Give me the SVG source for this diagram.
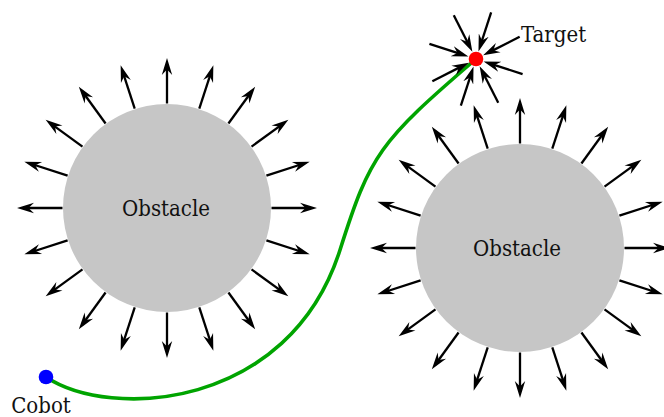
<svg xmlns="http://www.w3.org/2000/svg" xmlns:xlink="http://www.w3.org/1999/xlink" width="664" height="417" viewBox="0 0 664 417">
<style>
.obs{fill:#c6c6c6}
.lbl{font-family:"DejaVu Serif","Liberation Serif",serif;font-stretch:condensed;font-size:22px;fill:#111}
.ray{stroke:#000;stroke-width:2.3;fill:none;marker-end:url(#stealth)}
.path{fill:none;stroke:#00a400;stroke-width:3.6}
</style>
<defs>
<marker id="stealth" markerUnits="userSpaceOnUse" markerWidth="20" markerHeight="14" viewBox="0 -7 20 14" refX="11" refY="0" orient="auto">
<path d="M17,0 L0,-5.2 L5.5,0 L0,5.2 Z" fill="#000"/>
</marker>
<line id="out" class="ray" x1="104.5" y1="0" x2="144" y2="0"/>
<line id="in" class="ray" x1="49" y1="0" x2="14" y2="0"/>
</defs>

<g id="obstacle1">
<g transform="translate(167,208)">
<use xlink:href="#out" transform="rotate(0)"/>
<use xlink:href="#out" transform="rotate(18)"/>
<use xlink:href="#out" transform="rotate(36)"/>
<use xlink:href="#out" transform="rotate(54)"/>
<use xlink:href="#out" transform="rotate(72)"/>
<use xlink:href="#out" transform="rotate(90)"/>
<use xlink:href="#out" transform="rotate(108)"/>
<use xlink:href="#out" transform="rotate(126)"/>
<use xlink:href="#out" transform="rotate(144)"/>
<use xlink:href="#out" transform="rotate(162)"/>
<use xlink:href="#out" transform="rotate(180)"/>
<use xlink:href="#out" transform="rotate(198)"/>
<use xlink:href="#out" transform="rotate(216)"/>
<use xlink:href="#out" transform="rotate(234)"/>
<use xlink:href="#out" transform="rotate(252)"/>
<use xlink:href="#out" transform="rotate(270)"/>
<use xlink:href="#out" transform="rotate(288)"/>
<use xlink:href="#out" transform="rotate(306)"/>
<use xlink:href="#out" transform="rotate(324)"/>
<use xlink:href="#out" transform="rotate(342)"/>
</g>
<circle class="obs" cx="167" cy="208" r="104"/>
<text class="lbl" x="166" y="216" text-anchor="middle">Obstacle</text>
</g>

<g id="obstacle2">
<g transform="translate(520,248)">
<use xlink:href="#out" transform="rotate(0)"/>
<use xlink:href="#out" transform="rotate(18)"/>
<use xlink:href="#out" transform="rotate(36)"/>
<use xlink:href="#out" transform="rotate(54)"/>
<use xlink:href="#out" transform="rotate(72)"/>
<use xlink:href="#out" transform="rotate(90)"/>
<use xlink:href="#out" transform="rotate(108)"/>
<use xlink:href="#out" transform="rotate(126)"/>
<use xlink:href="#out" transform="rotate(144)"/>
<use xlink:href="#out" transform="rotate(162)"/>
<use xlink:href="#out" transform="rotate(180)"/>
<use xlink:href="#out" transform="rotate(198)"/>
<use xlink:href="#out" transform="rotate(216)"/>
<use xlink:href="#out" transform="rotate(234)"/>
<use xlink:href="#out" transform="rotate(252)"/>
<use xlink:href="#out" transform="rotate(270)"/>
<use xlink:href="#out" transform="rotate(288)"/>
<use xlink:href="#out" transform="rotate(306)"/>
<use xlink:href="#out" transform="rotate(324)"/>
<use xlink:href="#out" transform="rotate(342)"/>
</g>
<circle class="obs" cx="520" cy="248" r="104"/>
<text class="lbl" x="517" y="256" text-anchor="middle">Obstacle</text>
</g>

<g id="connectors">
<path class="path" d="M46,377 C110,420 289,410 340,250 C370,155 379,142 476,59"/>
</g>

<g id="target">
<g transform="translate(476,59)">
<use xlink:href="#in" transform="rotate(18)"/>
<use xlink:href="#in" transform="rotate(63)"/>
<use xlink:href="#in" transform="rotate(108)"/>
<use xlink:href="#in" transform="rotate(153)"/>
<use xlink:href="#in" transform="rotate(198)"/>
<use xlink:href="#in" transform="rotate(243)"/>
<use xlink:href="#in" transform="rotate(288)"/>
<use xlink:href="#in" transform="rotate(333)"/>
</g>
<circle cx="476" cy="59" r="7.3" fill="#ff0000"/>
<text class="lbl" x="521" y="42">Target</text>
</g>

<g id="cobot">
<circle cx="46" cy="377" r="7.3" fill="#0000ff"/>
<text class="lbl" x="41" y="413" text-anchor="middle">Cobot</text>
</g>
</svg>
